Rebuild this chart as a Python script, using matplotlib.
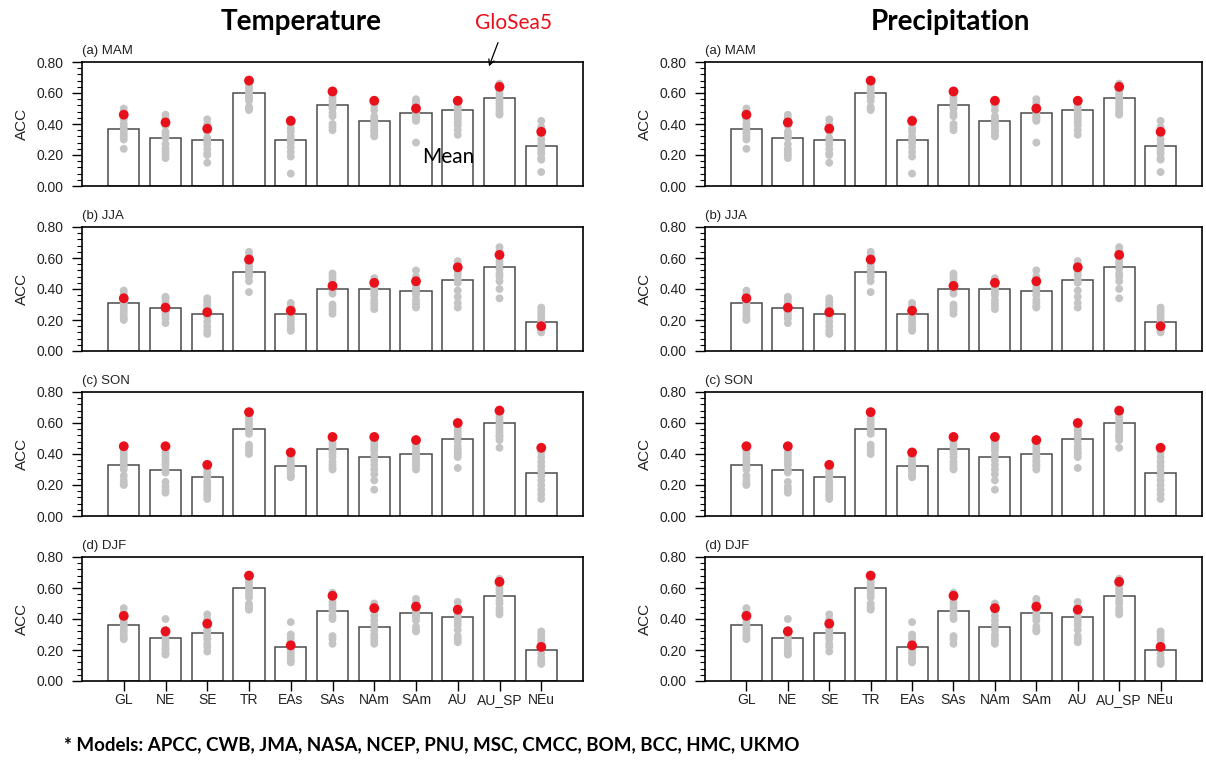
import numpy as np
import matplotlib
matplotlib.use('Agg')
import matplotlib.pyplot as plt
from matplotlib.ticker import MultipleLocator, FormatStrFormatter

plt.rcParams['font.family'] = ['Liberation Sans', 'DejaVu Sans']

regions = ['GL', 'NE', 'SE', 'TR', 'EAs', 'SAs', 'NAm', 'SAm', 'AU', 'AU_SP', 'NEu']
seasons = ['(a) MAM', '(b) JJA', '(c) SON', '(d) DJF']

#Multi-model mean ACC (bars)
mean_mam = [0.37, 0.31, 0.30, 0.60, 0.30, 0.52, 0.42, 0.47, 0.49, 0.57, 0.26]
mean_jja = [0.31, 0.28, 0.24, 0.51, 0.24, 0.40, 0.40, 0.39, 0.46, 0.54, 0.19]
mean_son = [0.33, 0.30, 0.25, 0.56, 0.32, 0.43, 0.38, 0.40, 0.50, 0.60, 0.28]
mean_djf = [0.36, 0.28, 0.31, 0.60, 0.22, 0.45, 0.35, 0.44, 0.41, 0.55, 0.20]

#GloSea5 ACC (red dots)
glosea_mam = [0.46, 0.41, 0.37, 0.68, 0.42, 0.61, 0.55, 0.50, 0.55, 0.64, 0.35]
glosea_jja = [0.34, 0.28, 0.25, 0.59, 0.26, 0.42, 0.44, 0.45, 0.54, 0.62, 0.16]
glosea_son = [0.45, 0.45, 0.33, 0.67, 0.41, 0.51, 0.51, 0.49, 0.60, 0.68, 0.44]
glosea_djf = [0.42, 0.32, 0.37, 0.68, 0.23, 0.55, 0.47, 0.48, 0.46, 0.64, 0.22]

#Individual models ACC (grey dots), one list per region
models_mam = [
    [0.50, 0.48, 0.43, 0.40, 0.38, 0.36, 0.34, 0.32, 0.30, 0.24, 0.45],
    [0.46, 0.44, 0.39, 0.35, 0.33, 0.31, 0.27, 0.24, 0.22, 0.20, 0.18],
    [0.43, 0.40, 0.37, 0.35, 0.31, 0.29, 0.27, 0.24, 0.21, 0.20, 0.15],
    [0.68, 0.66, 0.64, 0.62, 0.60, 0.58, 0.57, 0.55, 0.51, 0.50, 0.49],
    [0.43, 0.40, 0.37, 0.35, 0.32, 0.30, 0.28, 0.25, 0.22, 0.19, 0.08],
    [0.59, 0.57, 0.55, 0.53, 0.51, 0.50, 0.47, 0.45, 0.40, 0.38, 0.36],
    [0.52, 0.49, 0.45, 0.43, 0.41, 0.40, 0.38, 0.36, 0.35, 0.33, 0.32],
    [0.56, 0.54, 0.52, 0.50, 0.49, 0.47, 0.45, 0.44, 0.43, 0.42, 0.28],
    [0.55, 0.53, 0.51, 0.49, 0.47, 0.45, 0.43, 0.41, 0.39, 0.36, 0.33],
    [0.66, 0.63, 0.61, 0.59, 0.57, 0.55, 0.53, 0.51, 0.49, 0.47, 0.46],
    [0.42, 0.38, 0.33, 0.30, 0.27, 0.25, 0.23, 0.21, 0.18, 0.17, 0.09],
]
models_jja = [
    [0.39, 0.37, 0.35, 0.33, 0.31, 0.29, 0.27, 0.25, 0.23, 0.21, 0.20],
    [0.35, 0.34, 0.32, 0.30, 0.29, 0.27, 0.26, 0.25, 0.23, 0.21, 0.18],
    [0.34, 0.32, 0.30, 0.28, 0.26, 0.24, 0.22, 0.19, 0.16, 0.13, 0.11],
    [0.64, 0.62, 0.60, 0.58, 0.56, 0.54, 0.52, 0.50, 0.48, 0.45, 0.38],
    [0.31, 0.29, 0.28, 0.26, 0.24, 0.22, 0.20, 0.18, 0.16, 0.14, 0.13],
    [0.50, 0.48, 0.46, 0.44, 0.41, 0.39, 0.37, 0.30, 0.28, 0.26, 0.24],
    [0.47, 0.45, 0.43, 0.41, 0.40, 0.38, 0.36, 0.33, 0.31, 0.29, 0.27],
    [0.52, 0.48, 0.45, 0.42, 0.40, 0.38, 0.36, 0.33, 0.31, 0.29, 0.28],
    [0.58, 0.56, 0.53, 0.51, 0.49, 0.46, 0.44, 0.39, 0.35, 0.31, 0.28],
    [0.67, 0.65, 0.61, 0.58, 0.56, 0.53, 0.50, 0.48, 0.45, 0.40, 0.34],
    [0.28, 0.26, 0.24, 0.22, 0.20, 0.18, 0.16, 0.15, 0.14, 0.13, 0.12],
]
models_son = [
    [0.42, 0.40, 0.38, 0.36, 0.34, 0.32, 0.30, 0.26, 0.23, 0.21, 0.20],
    [0.41, 0.39, 0.37, 0.35, 0.33, 0.30, 0.28, 0.22, 0.19, 0.17, 0.15],
    [0.30, 0.28, 0.26, 0.25, 0.22, 0.20, 0.18, 0.16, 0.14, 0.13, 0.11],
    [0.65, 0.63, 0.61, 0.59, 0.57, 0.55, 0.53, 0.46, 0.44, 0.42, 0.40],
    [0.38, 0.36, 0.34, 0.33, 0.32, 0.31, 0.30, 0.29, 0.27, 0.26, 0.25],
    [0.50, 0.48, 0.46, 0.44, 0.42, 0.40, 0.38, 0.35, 0.33, 0.31, 0.30],
    [0.48, 0.46, 0.44, 0.42, 0.39, 0.36, 0.33, 0.30, 0.27, 0.23, 0.17],
    [0.48, 0.46, 0.44, 0.42, 0.40, 0.38, 0.36, 0.35, 0.33, 0.32, 0.30],
    [0.57, 0.55, 0.53, 0.51, 0.48, 0.45, 0.43, 0.41, 0.40, 0.38, 0.31],
    [0.66, 0.64, 0.62, 0.60, 0.58, 0.56, 0.54, 0.52, 0.51, 0.49, 0.44],
    [0.41, 0.38, 0.35, 0.32, 0.29, 0.26, 0.23, 0.20, 0.17, 0.14, 0.11],
]
models_djf = [
    [0.47, 0.44, 0.42, 0.40, 0.38, 0.36, 0.34, 0.32, 0.30, 0.28, 0.27],
    [0.40, 0.33, 0.31, 0.29, 0.27, 0.25, 0.23, 0.21, 0.20, 0.18, 0.17],
    [0.43, 0.40, 0.37, 0.35, 0.33, 0.31, 0.29, 0.27, 0.24, 0.22, 0.19],
    [0.66, 0.64, 0.62, 0.60, 0.58, 0.56, 0.54, 0.50, 0.48, 0.47, 0.46],
    [0.38, 0.30, 0.28, 0.26, 0.23, 0.20, 0.18, 0.16, 0.14, 0.13, 0.12],
    [0.57, 0.54, 0.51, 0.49, 0.47, 0.45, 0.42, 0.40, 0.29, 0.27, 0.24],
    [0.50, 0.47, 0.45, 0.42, 0.39, 0.36, 0.33, 0.30, 0.28, 0.26, 0.24],
    [0.53, 0.51, 0.49, 0.47, 0.45, 0.43, 0.41, 0.39, 0.35, 0.33, 0.32],
    [0.51, 0.48, 0.45, 0.42, 0.40, 0.38, 0.36, 0.33, 0.29, 0.27, 0.25],
    [0.66, 0.63, 0.61, 0.59, 0.57, 0.55, 0.52, 0.50, 0.47, 0.45, 0.43],
    [0.32, 0.30, 0.28, 0.26, 0.24, 0.22, 0.18, 0.15, 0.13, 0.12, 0.11],
]

means = [mean_mam, mean_jja, mean_son, mean_djf]
gloseas = [glosea_mam, glosea_jja, glosea_son, glosea_djf]
models = [models_mam, models_jja, models_son, models_djf]

models_text = '* Models: APCC, CWB, JMA, NASA, NCEP, PNU, MSC, CMCC, BOM, BCC, HMC, UKMO'

W, H = 1206, 761
fig = plt.figure(figsize=(W / 100, H / 100), dpi=100)

#panel geometry in pixels
col_left = [82, 705]
col_width = [501, 497]
row_top = [62, 227, 392, 557]
row_h = 124

x = np.arange(len(regions))

for c in range(2):
    for r in range(4):
        ax = fig.add_axes([col_left[c] / W, 1 - (row_top[r] + row_h) / H,
                           col_width[c] / W, row_h / H])
        ax.bar(x, means[r], width=0.75, color='white', edgecolor='#4a4a4a',
               linewidth=1.1, zorder=2)
        for i in range(len(regions)):
            ax.scatter(np.full(len(models[r][i]), x[i]), models[r][i], s=32,
                       color='#c4c4c4', edgecolors='none', zorder=3)
        ax.scatter(x, gloseas[r], s=50, color='#e8101a', edgecolors='none', zorder=4)

        ax.set_xlim(-1, 11)
        ax.set_ylim(0, 0.8)
        ax.yaxis.set_major_locator(MultipleLocator(0.2))
        ax.yaxis.set_minor_locator(MultipleLocator(0.04))
        ax.yaxis.set_major_formatter(FormatStrFormatter('%.2f'))
        ax.tick_params(axis='y', which='major', direction='out', length=7, width=1,
                       labelsize=10, pad=6, labelcolor='#222222')
        ax.tick_params(axis='y', which='minor', direction='out', length=3.5, width=0.8)
        ax.set_xticks(x)
        if r == 3:
            ax.set_xticklabels(regions, fontsize=10, color='#222222')
            ax.tick_params(axis='x', direction='out', length=7, width=1, pad=2)
        else:
            ax.tick_params(axis='x', bottom=False, labelbottom=False)
        for sp in ax.spines.values():
            sp.set_linewidth(1.2)
        ax.set_ylabel('ACC', fontsize=11, labelpad=6, color='#222222')
        ax.text(0, 1.04, seasons[r], transform=ax.transAxes, ha='left', va='bottom',
                fontsize=9.5, color='#222222')

fig.text(301 / W, 1 - 22 / H, 'Temperature', ha='center', va='center',
         fontsize=20, fontweight='bold', family='Lato')
fig.text(950 / W, 1 - 22 / H, 'Precipitation', ha='center', va='center',
         fontsize=20, fontweight='bold', family='Lato')
fig.text(513 / W, 1 - 23 / H, 'GloSea5', ha='center', va='center',
         fontsize=15, color='#e8101a', family='Lato')
fig.text(448 / W, 1 - 157 / H, 'Mean', ha='center', va='center',
         fontsize=15, color='black', family='Lato')
fig.text(64 / W, 1 - 745 / H, models_text, ha='left', va='center',
         fontsize=13.5, fontweight='bold', family='Lato')
fig.patches.append(matplotlib.patches.FancyArrowPatch(
    (499 / W, 1 - 40 / H), (488 / W, 1 - 69 / H), transform=fig.transFigure,
    arrowstyle='->', mutation_scale=10, linewidth=0.9, color='black'))

fig.savefig('out.png', dpi=100)
